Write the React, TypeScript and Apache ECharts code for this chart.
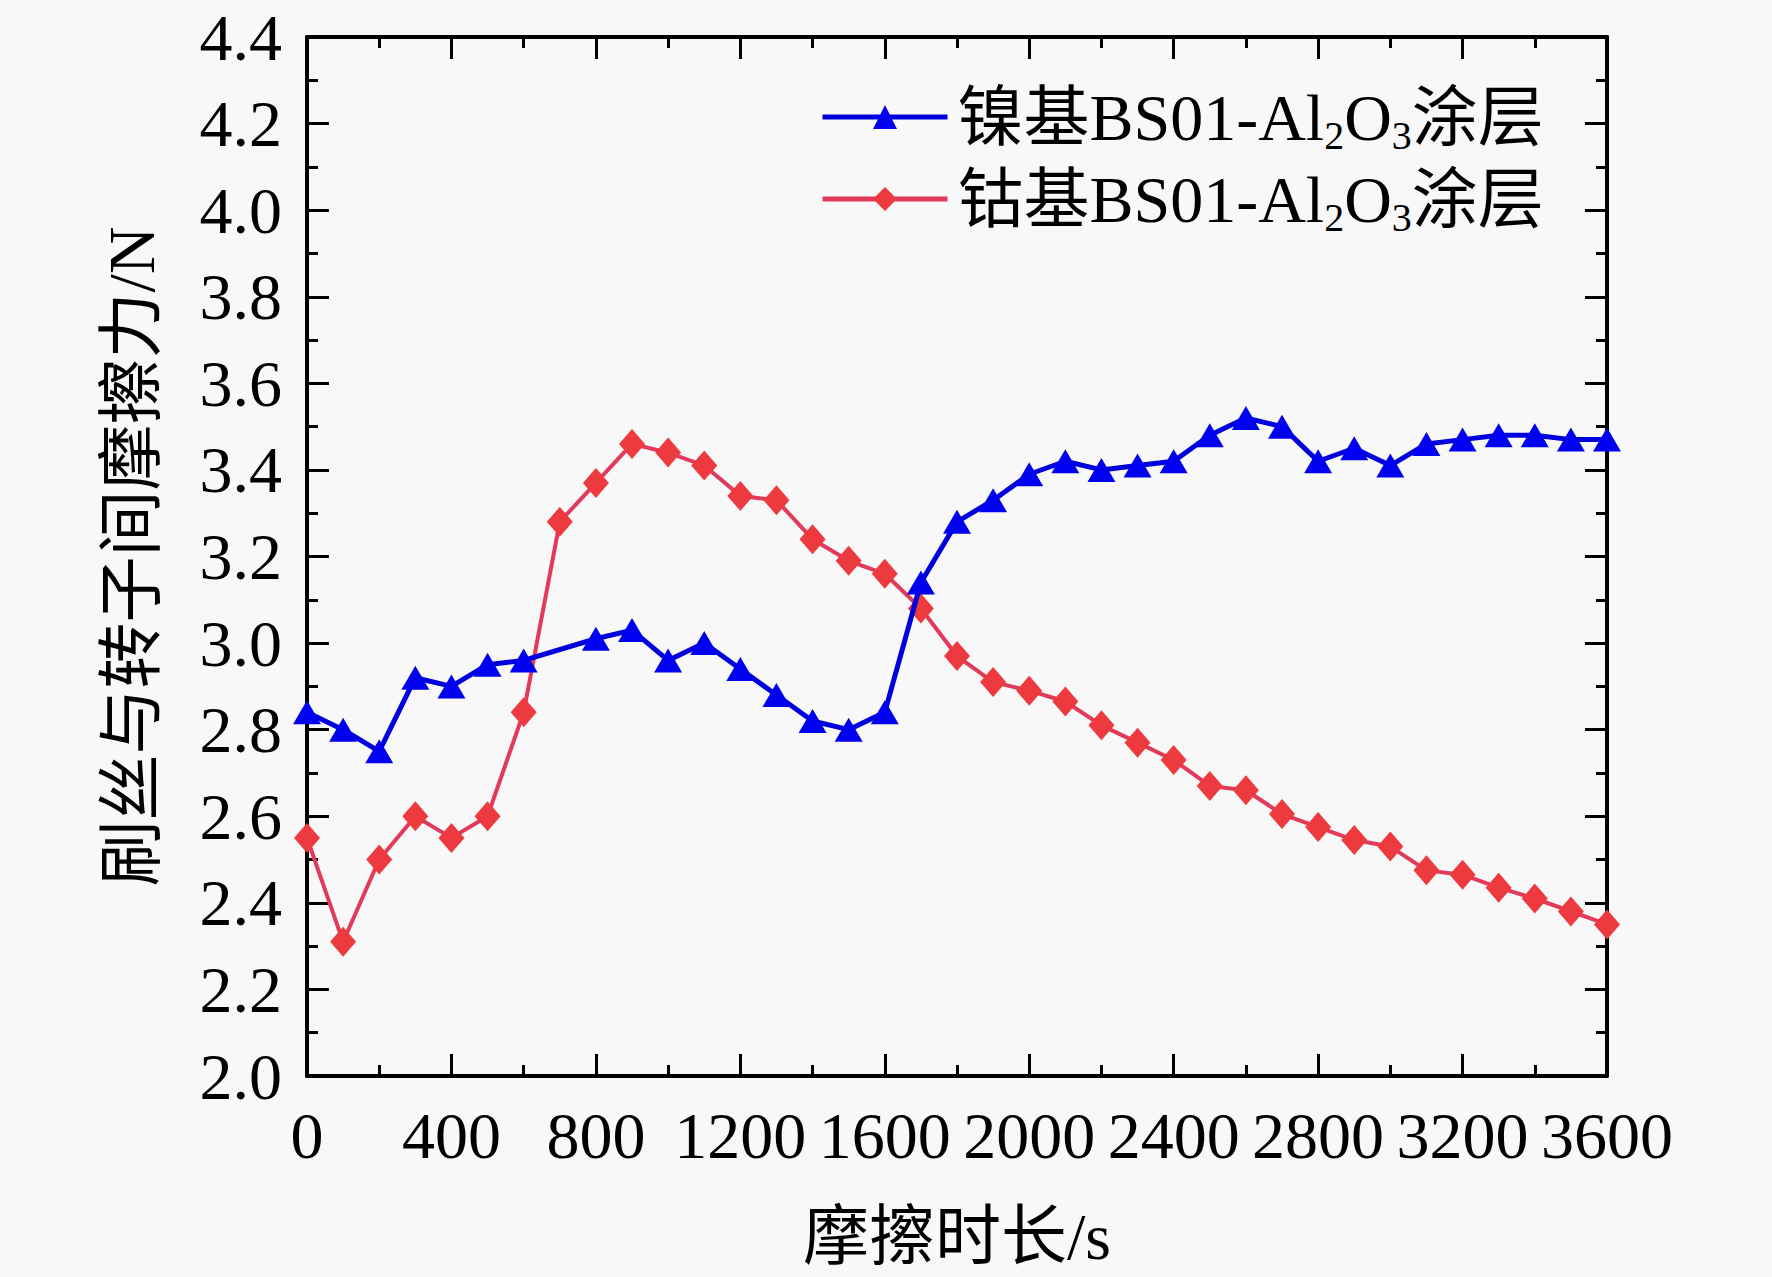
import React, { useEffect, useRef } from "react";
import * as echarts from "echarts";

const blueName = "镍基BS01-Al2O3涂层";
const redName = "钴基BS01-Al2O3涂层";

const blueTimes = [0, 100, 200, 300, 400, 500, 600, 800, 900, 1000, 1100, 1200, 1300, 1400, 1500, 1600, 1700, 1800, 1900, 2000, 2100, 2200, 2300, 2400, 2500, 2600, 2700, 2800, 2900, 3000, 3100, 3200, 3300, 3400, 3500, 3600];
const blueValues = [2.84, 2.80, 2.75, 2.92, 2.90, 2.95, 2.96, 3.01, 3.03, 2.96, 3.00, 2.94, 2.88, 2.82, 2.80, 2.84, 3.14, 3.28, 3.33, 3.39, 3.42, 3.40, 3.41, 3.42, 3.48, 3.52, 3.50, 3.42, 3.45, 3.41, 3.46, 3.47, 3.48, 3.48, 3.47, 3.47];

const redTimes = [0, 100, 200, 300, 400, 500, 600, 700, 800, 900, 1000, 1100, 1200, 1300, 1400, 1500, 1600, 1700, 1800, 1900, 2000, 2100, 2200, 2300, 2400, 2500, 2600, 2700, 2800, 2900, 3000, 3100, 3200, 3300, 3400, 3500, 3600];
const redValues = [2.55, 2.31, 2.50, 2.60, 2.55, 2.60, 2.84, 3.28, 3.37, 3.46, 3.44, 3.41, 3.34, 3.33, 3.24, 3.19, 3.16, 3.08, 2.97, 2.91, 2.89, 2.865, 2.81, 2.77, 2.73, 2.67, 2.66, 2.605, 2.575, 2.545, 2.53, 2.475, 2.465, 2.435, 2.41, 2.38, 2.35];

const xAxisName = "摩擦时长/s";
const yAxisName = "刷丝与转子间摩擦力/N";

const FONT = "'Liberation Serif', 'Times New Roman', 'Noto Sans CJK SC', serif";

export default function App() {
  const ref = useRef<HTMLDivElement>(null);
  useEffect(() => {
    if (!ref.current) return;
    const chart = echarts.init(ref.current, null, { renderer: "svg" });
    const axisCommon = {
      type: "value" as const,
      axisLine: { show: true, onZero: false, lineStyle: { color: "#000", width: 4 } },
      axisTick: { show: true, inside: true, length: 22, lineStyle: { color: "#000", width: 3 } },
      minorTick: { show: true, splitNumber: 2, length: 11, lineStyle: { color: "#000", width: 3 } },
      splitLine: { show: false },
      minorSplitLine: { show: false },
    };
    chart.setOption({
      animation: false,
      backgroundColor: "#f8f8f8",
      textStyle: { fontFamily: FONT },
      grid: { left: 307, right: 165, top: 37, bottom: 201, containLabel: false },
      legend: {
        orient: "vertical",
        left: 815,
        top: 74,
        itemWidth: 125,
        itemHeight: 30,
        itemGap: 6,
        data: [blueName, redName],
        lineStyle: { width: 5 },
        formatter: (name: string) => name.replace("Al2O3", "Al{sub|2}O{sub|3}"),
        textStyle: {
          fontFamily: FONT,
          fontSize: 66,
          color: "#000",
          lineHeight: 76,
          padding: [0, 0, 0, 5],
          rich: {
            sub: { fontFamily: FONT, fontSize: 40, lineHeight: 40, verticalAlign: "bottom", color: "#000" },
          },
        },
      },
      xAxis: [
        {
          ...axisCommon,
          min: 0,
          max: 3600,
          interval: 400,
          position: "bottom",
          name: xAxisName,
          nameLocation: "middle",
          nameGap: 127,
          nameTextStyle: { fontFamily: FONT, fontSize: 66, color: "#000" },
          axisLabel: {
            fontFamily: FONT,
            fontSize: 66,
            color: "#000",
            margin: 26,
            showMaxLabel: true,
            showMinLabel: true,
            hideOverlap: false,
            formatter: (v: number) => String(v),
          },
        },
        {
          ...axisCommon,
          min: 0,
          max: 3600,
          interval: 400,
          position: "top",
          axisLabel: { show: false },
        },
      ],
      yAxis: [
        {
          ...axisCommon,
          min: 2.0,
          max: 4.4,
          interval: 0.2,
          position: "left",
          name: yAxisName,
          nameLocation: "middle",
          nameGap: 143,
          nameRotate: 90,
          nameTextStyle: { fontFamily: FONT, fontSize: 66, color: "#000" },
          axisLabel: {
            fontFamily: FONT,
            fontSize: 66,
            lineHeight: 48,
            color: "#000",
            margin: 25,
            formatter: (v: number) => v.toFixed(1),
          },
        },
        {
          ...axisCommon,
          min: 2.0,
          max: 4.4,
          interval: 0.2,
          position: "right",
          axisLabel: { show: false },
        },
      ],
      series: [
        {
          name: blueName,
          type: "line",
          xAxisIndex: 0,
          yAxisIndex: 0,
          data: blueTimes.map((t, i) => [t, blueValues[i]]),
          symbol: "triangle",
          symbolSize: [28, 24],
          lineStyle: { color: "#0000dd", width: 5 },
          itemStyle: { color: "#0000f0" },
          z: 3,
        },
        {
          name: redName,
          type: "line",
          xAxisIndex: 0,
          yAxisIndex: 0,
          data: redTimes.map((t, i) => [t, redValues[i]]),
          symbol: "diamond",
          symbolSize: [26, 30],
          lineStyle: { color: "#e23a5a", width: 4 },
          itemStyle: { color: "#ec3a3e" },
          z: 2,
        },
      ],
    });
    return () => chart.dispose();
  }, []);
  return (
    <div
      ref={ref}
      style={{ position: "absolute", left: 0, top: 0, width: 1772, height: 1277 }}
    />
  );
}
